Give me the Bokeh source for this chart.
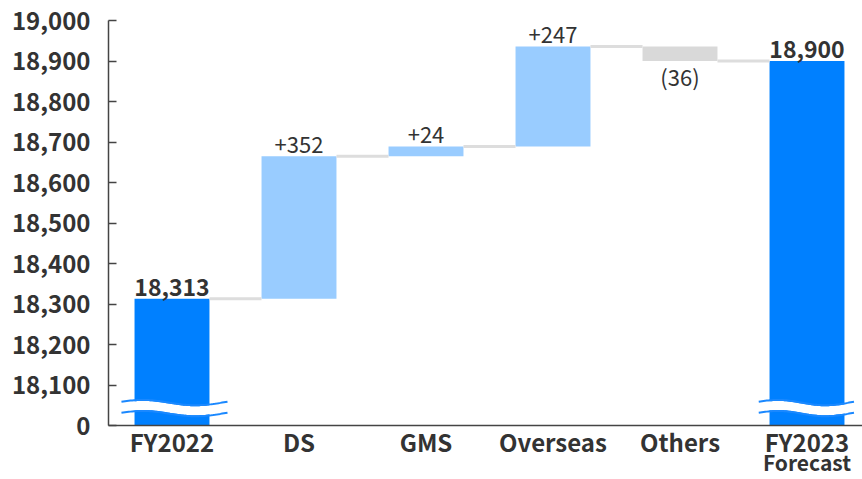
import numpy as np
from bokeh.plotting import figure
from bokeh.models import Range1d, FixedTicker, ColumnDataSource, LinearAxis
from bokeh.core.properties import value
from bokeh.embed import file_html
from bokeh.resources import INLINE

# ---- data ----
categories = ["FY2022", "DS", "GMS", "Overseas", "Others", "FY2023"]
sub_labels = ["", "", "", "", "", "Forecast"]
start_total = 18313
changes = [352, 24, 247, -36]
end_total = 18900
value_labels = ["18,313", "+352", "+24", "+247", "(36)", "18,900"]
y_ticks = [18000, 18100, 18200, 18300, 18400, 18500, 18600, 18700, 18800, 18900, 19000]
y_tick_labels = ["0", "18,100", "18,200", "18,300", "18,400", "18,500",
                 "18,600", "18,700", "18,800", "18,900", "19,000"]
axis_base = 18000
axis_top = 19000

FONT = "Noto Sans CJK JP"
TXT = "#333333"
DARK = "#0080FF"
LIGHT = "#99CCFF"
GREY = "#D9D9D9"

# ---- waterfall geometry from data ----
xs = list(range(len(categories)))
bottoms, tops, colors = [], [], []
bottoms.append(axis_base); tops.append(start_total); colors.append(DARK)
level = start_total
levels = [level]
for c in changes:
    new = level + c
    bottoms.append(min(level, new)); tops.append(max(level, new))
    colors.append(LIGHT if c >= 0 else GREY)
    level = new
    levels.append(level)
bottoms.append(axis_base); tops.append(end_total); colors.append(DARK)

W = 0.59
p = figure(width=862, height=479, output_backend="svg", toolbar_location=None,
           x_range=Range1d(-0.5, 5.437), y_range=Range1d(axis_base, axis_top),
           min_border_left=108, min_border_right=0, min_border_top=20, min_border_bottom=0)
p.outline_line_color = None
p.xgrid.visible = False
p.ygrid.visible = False
p.background_fill_color = "white"

src = ColumnDataSource(dict(x=xs, bottom=bottoms, top=tops, color=colors))
p.vbar(x="x", bottom="bottom", top="top", width=W, fill_color="color", line_color=None, source=src)

# connectors
p.segment(x0=[i + W / 2 for i in range(len(levels))],
          x1=[i + 1 - W / 2 for i in range(len(levels))],
          y0=levels, y1=levels, line_color="#DDDDDD", line_width=3)

# value labels
for i, lab in enumerate(value_labels):
    is_total = i in (0, len(categories) - 1)
    is_neg = (not is_total) and changes[i - 1] < 0
    if is_neg:
        p.text(x=[i], y=[bottoms[i]], text=[lab], text_align="center", text_baseline="top",
               y_offset=-1, text_font=value(FONT), text_font_size="22px", text_color=TXT)
    else:
        p.text(x=[i], y=[tops[i]], text=[lab], text_align="center", text_baseline="bottom",
               y_offset=-3, text_font=value(FONT), text_font_size="23px" if is_total else "22px",
               text_color=TXT, text_font_style="bold" if is_total else "normal")

# axis break waves on total bars
for i, (l, r) in zip([0, 5], [(-0.398, 0.437), (-0.38, 0.37)]):
    wx = np.linspace(i + l, i + r, 60)
    t = (wx - wx[0]) / (wx[-1] - wx[0])
    wy = 18043 + 6.5 * np.sin(2 * np.pi * t + 0.1 * np.pi)
    p.line(wx, wy, line_color="white", line_width=9)
    p.line(wx, wy + 13.6, line_color="#1A88FF", line_width=2)
    p.line(wx, wy - 13.6, line_color="#1A88FF", line_width=2)

# axes
p.yaxis.ticker = FixedTicker(ticks=y_ticks)
p.yaxis.major_label_overrides = {t: s for t, s in zip(y_ticks, y_tick_labels)}
p.yaxis.major_tick_in = 8
p.yaxis.major_tick_out = 0
p.yaxis.minor_tick_line_color = None
p.yaxis.major_label_standoff = 18
p.yaxis.major_label_text_font = FONT
p.yaxis.major_label_text_font_size = "24px"
p.yaxis.major_label_text_font_style = "bold"
p.yaxis.major_label_text_color = TXT
p.yaxis.axis_line_color = "#444444"
p.yaxis.axis_line_width = 1.5
p.yaxis.major_tick_line_color = "#444444"
p.yaxis.major_tick_line_width = 1.5

p.xaxis.ticker = FixedTicker(ticks=xs)
p.xaxis.major_label_overrides = {i: c for i, c in enumerate(categories)}
p.xaxis.major_tick_in = 0
p.xaxis.major_tick_out = 0
p.xaxis.minor_tick_line_color = None
p.xaxis.major_label_standoff = -2
p.xaxis.major_label_text_font = FONT
p.xaxis.major_label_text_font_size = "24px"
p.xaxis.major_label_text_font_style = "bold"
p.xaxis.major_label_text_color = TXT
p.xaxis.axis_line_color = "#444444"
p.xaxis.axis_line_width = 1.5

sub_axis = LinearAxis(ticker=FixedTicker(ticks=xs),
                      major_label_overrides={i: s for i, s in enumerate(sub_labels)},
                      axis_line_color=None, major_tick_line_color=None, minor_tick_line_color=None,
                      major_tick_in=0, major_tick_out=0, major_label_standoff=-15,
                      major_label_text_font=FONT, major_label_text_font_size="21px",
                      major_label_text_font_style="bold", major_label_text_color=TXT)
p.add_layout(sub_axis, "below")

open("out.html", "w").write(file_html(p, INLINE))
